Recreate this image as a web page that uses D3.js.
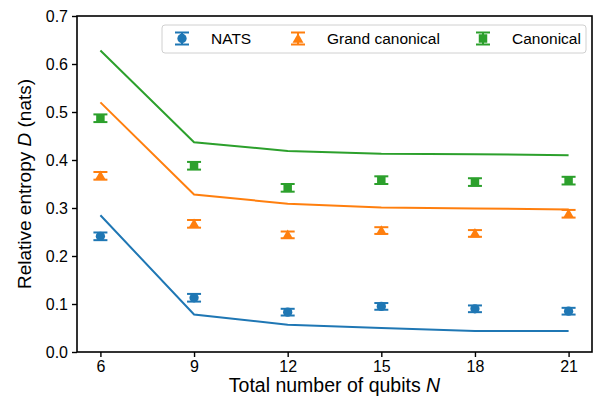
<!DOCTYPE html>
<html>
<head>
<meta charset="utf-8">
<script src="https://cdn.jsdelivr.net/npm/d3@7"></script>
<style>
body{margin:0;background:#fff;}
svg{display:block;font-family:"Liberation Sans",Arial,sans-serif;}
</style>
</head>
<body>
<svg id="chart" width="597" height="402"></svg>
<script>
// qubit counts
var qubits=[6,9,12,15,18,21];
// measured points
var natsPts=[0.241,0.113,0.083,0.095,0.090,0.085];
var grandPts=[0.367,0.267,0.244,0.253,0.247,0.288];
var canonPts=[0.487,0.388,0.342,0.358,0.354,0.357];
var natsErr=[0.008,0.008,0.007,0.007,0.007,0.007];
var grandErr=[0.008,0.008,0.007,0.007,0.007,0.008];
var canonErr=[0.008,0.008,0.008,0.008,0.008,0.008];
// theory curves
var natsLine=[0.285,0.078,0.057,0.050,0.044,0.044];
var grandLine=[0.520,0.328,0.309,0.301,0.299,0.297];
var canonLine=[0.628,0.437,0.419,0.413,0.412,0.410];
var yTicks=[0,0.1,0.2,0.3,0.4,0.5,0.6,0.7];
var names=["NATS","Grand canonical","Canonical"];

var series=[
    {name:names[0],pts:natsPts,err:natsErr,line:natsLine,color:"#1f77b4",sym:d3.symbolCircle},
    {name:names[1],pts:grandPts,err:grandErr,line:grandLine,color:"#ff7f0e",sym:d3.symbolTriangle},
    {name:names[2],pts:canonPts,err:canonErr,line:canonLine,color:"#2ca02c",sym:d3.symbolSquare}
];

var L=77,R=592,T=16,B=352;
var svg=d3.select("#chart");
var x=d3.scaleLinear().domain([5.25,21.75]).range([L,R]);
var y=d3.scaleLinear().domain([0,0.7]).range([B,T]);

// theory lines
var line=d3.line().x(function(d){return x(d[0]);}).y(function(d){return y(d[1]);});
series.forEach(function(s){
    svg.append("path")
    .attr("d",line(qubits.map(function(q,i){return [q,s.line[i]];})))
    .attr("fill","none").attr("stroke",s.color).attr("stroke-width",2);
});

function symSize(sym){
    if(sym===d3.symbolTriangle) return 52;
    if(sym===d3.symbolSquare) return 72;
    return 68;
}

function errbar(g,cx,cy,dy,color,sym){
    g.append("line").attr("x1",cx).attr("x2",cx).attr("y1",cy-dy).attr("y2",cy+dy)
    .attr("stroke",color).attr("stroke-width",2);
    [cy-dy,cy+dy].forEach(function(yy){
        g.append("line").attr("x1",cx-7).attr("x2",cx+7).attr("y1",yy).attr("y2",yy)
        .attr("stroke",color).attr("stroke-width",2);
    });
    g.append("path").attr("d",d3.symbol().type(sym).size(symSize(sym))())
    .attr("transform","translate("+cx+","+(sym===d3.symbolTriangle?cy+1:cy)+")")
    .attr("fill",color);
}

// points with error bars
series.forEach(function(s){
    var g=svg.append("g");
    qubits.forEach(function(q,i){
        var cy=y(s.pts[i]);
        var dy=y(0)-y(s.err[i]);
        errbar(g,x(q),cy,dy,s.color,s.sym);
    });
});

// axes
var xAxis=svg.append("g").attr("transform","translate(0,"+B+")")
    .call(d3.axisBottom(x).tickValues(qubits).tickSize(5).tickPadding(4));
var yAxis=svg.append("g").attr("transform","translate("+L+",0)")
    .call(d3.axisLeft(y).tickValues(yTicks).tickFormat(d3.format(".1f")).tickSize(5).tickPadding(4));
[xAxis,yAxis].forEach(function(a){
    a.select(".domain").remove();
    a.selectAll("line").attr("stroke","#000").attr("stroke-width",1.4);
    a.selectAll("text").attr("font-size",16).attr("fill","#000").attr("font-family","Liberation Sans,Arial,sans-serif");
});
svg.append("rect").attr("x",L).attr("y",T).attr("width",R-L).attr("height",B-T)
.attr("fill","none").attr("stroke","#000").attr("stroke-width",1.6);

// axis labels
var xl=svg.append("text").attr("x",(L+R)/2).attr("y",392).attr("text-anchor","middle")
.attr("font-size",19.5).text("Total number of qubits ");
xl.append("tspan").attr("font-style","italic").text("N");

var yl=svg.append("text").attr("transform","translate(31,"+((T+B)/2)+") rotate(-90)")
.attr("text-anchor","middle").attr("font-size",19).text("Relative entropy ");
yl.append("tspan").attr("font-style","italic").text("D");
yl.append("tspan").text(" (nats)");

// legend
var lg=svg.append("g");
lg.append("rect").attr("x",162).attr("y",25).attr("width",424).attr("height",28)
.attr("rx",3).attr("fill","#fff").attr("fill-opacity",0.8).attr("stroke","#d0d0d0").attr("stroke-width",1);
var hx=[182,298,483];
series.forEach(function(s,i){
    errbar(lg,hx[i],38.5,6,s.color,s.sym);
    lg.append("text").attr("x",hx[i]+29).attr("y",44).attr("font-size",15.5).text(s.name);
});
</script>
</body>
</html>
